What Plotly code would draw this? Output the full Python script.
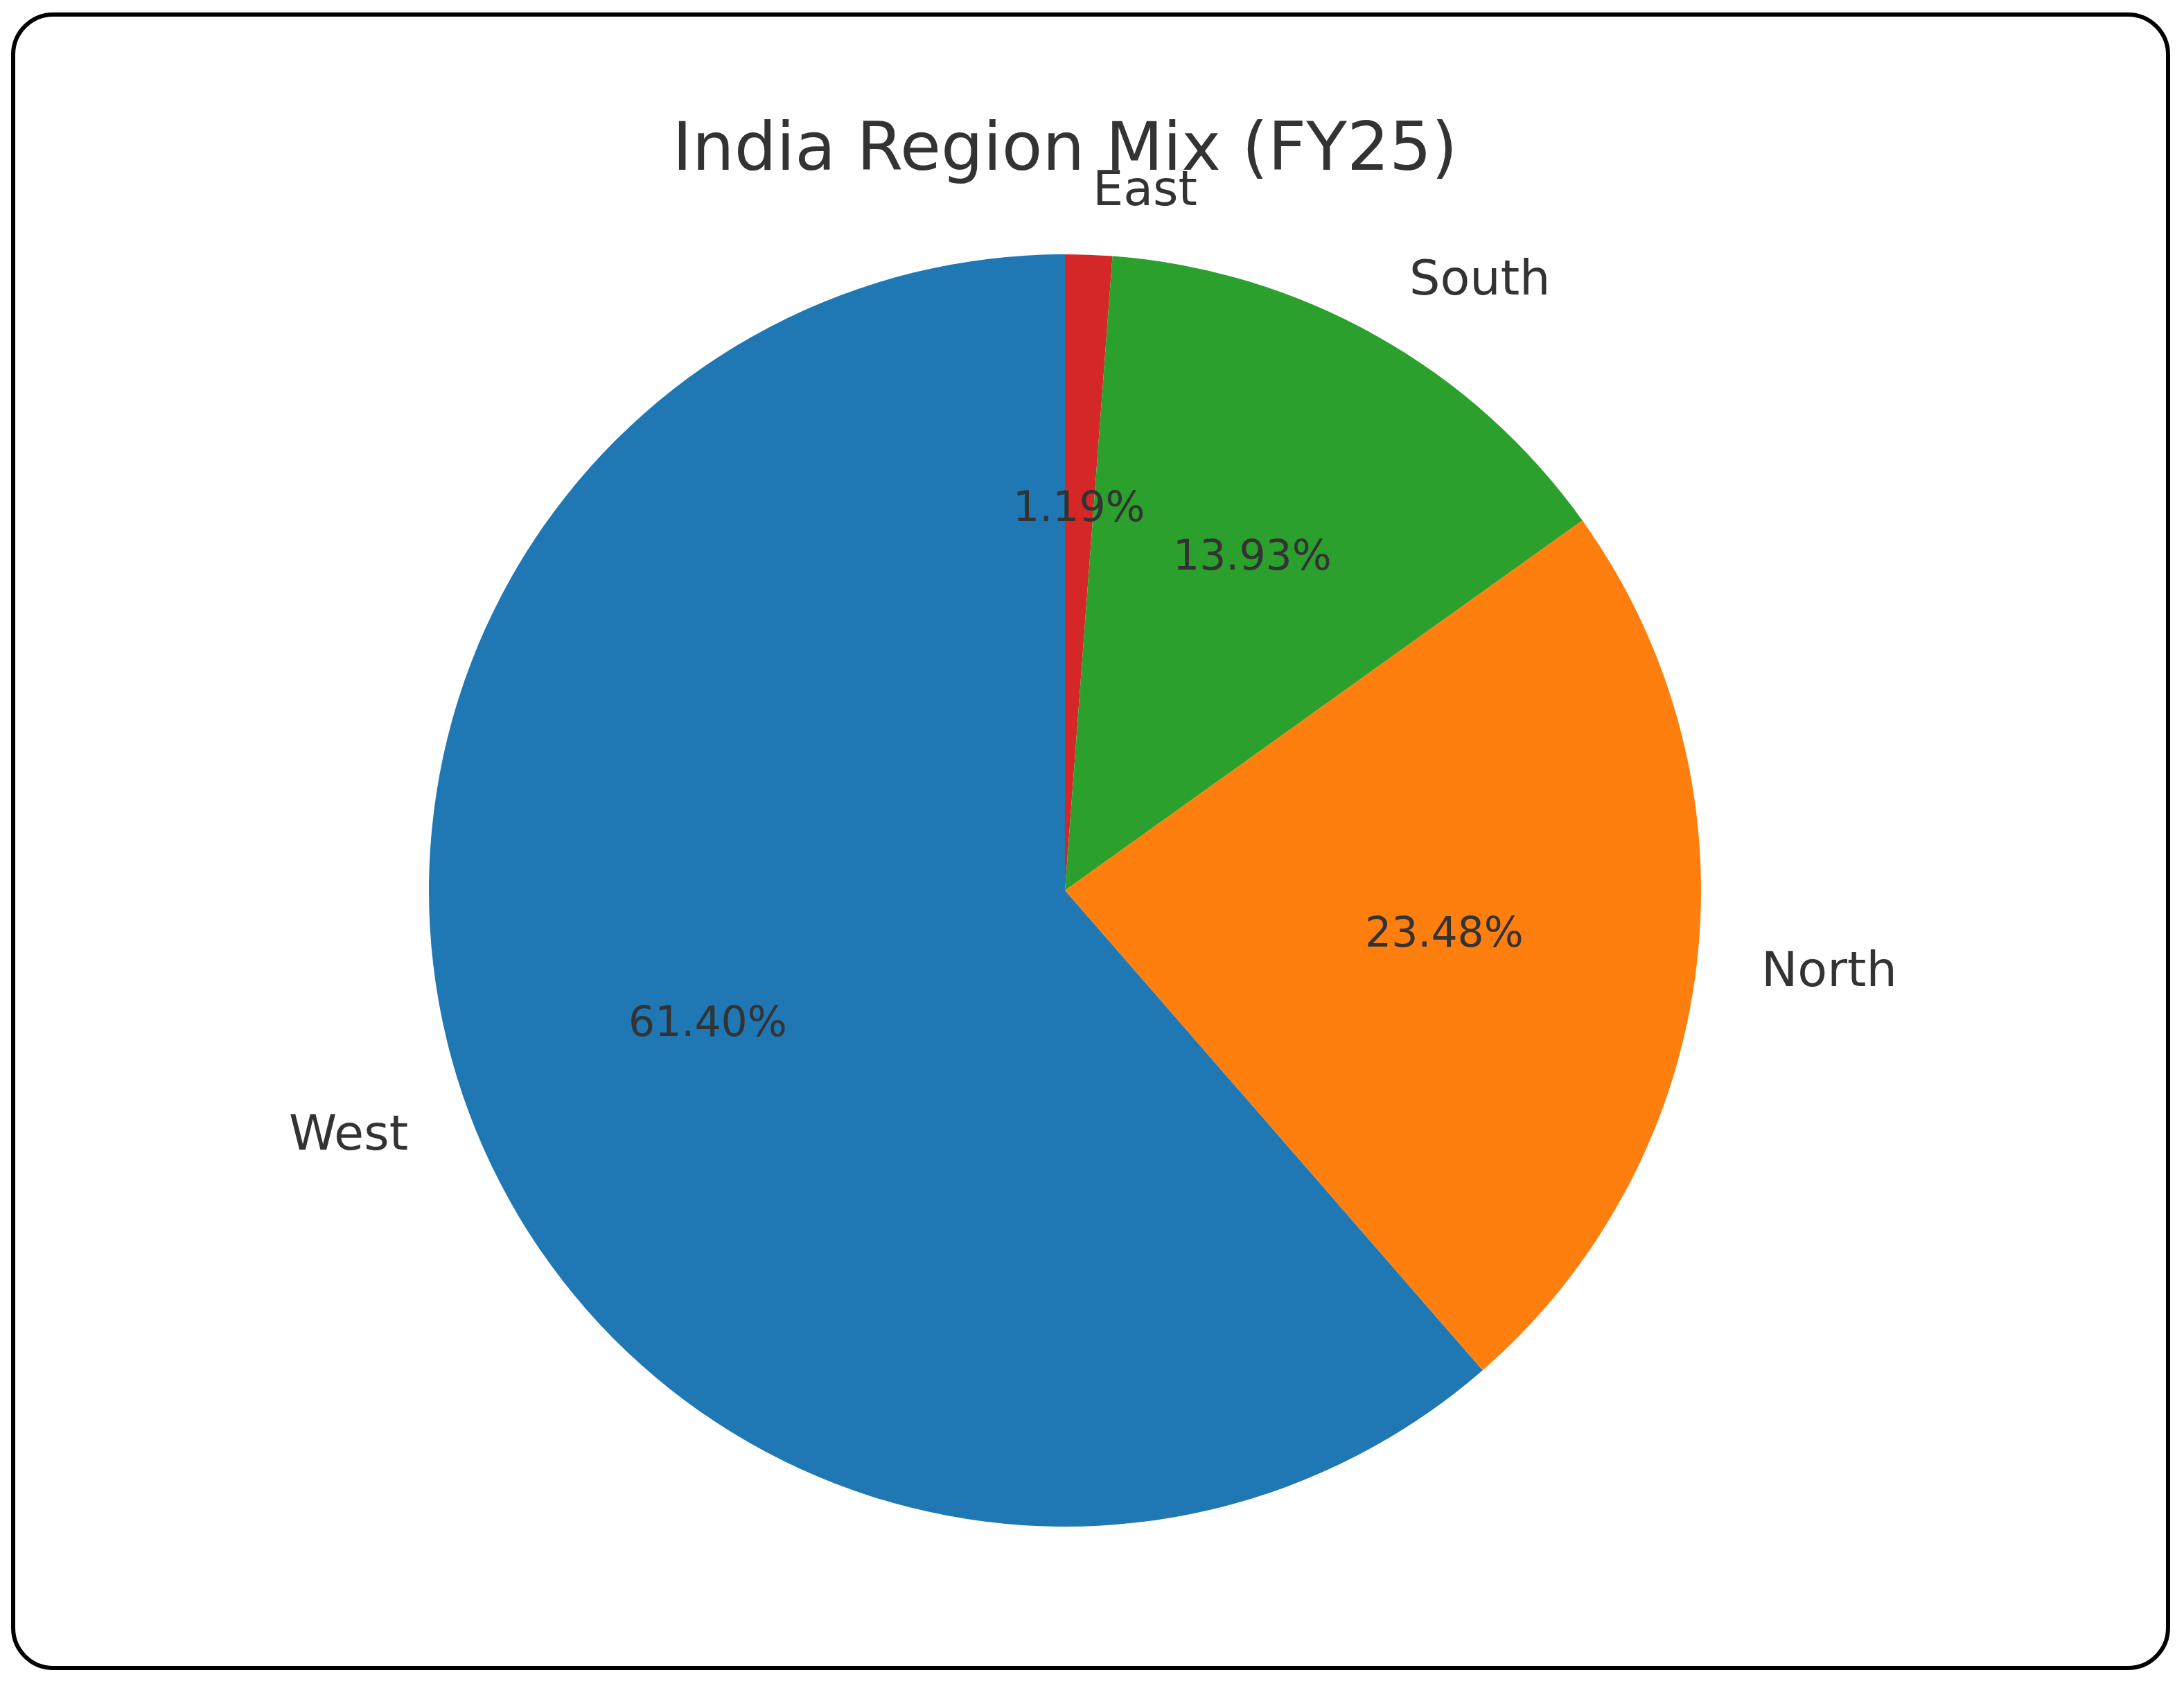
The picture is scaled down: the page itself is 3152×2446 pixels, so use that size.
import math
import plotly.graph_objects as go

# data
regions = ["West", "North", "South", "East"]
shares = [61.40, 23.48, 13.93, 1.19]
colors = ["#1f77b4", "#ff7f0e", "#2ca02c", "#d62728"]
title = "India Region Mix (FY25)"

W, H = 3152, 2446
off = 8                        # page body margin in the browser
cx, cy, r = 1537 - off, 1285 - off, 918   # pie center / radius in px
font = "DejaVu Sans"
txt_color = "#333333"
text_dy = 4                    # matplotlib centers text a little higher

fig = go.Figure()
# plotly draws clockwise from 12 o'clock; matplotlib went counterclockwise,
# so feed the slices in reverse order
fig.add_trace(go.Pie(
    labels=regions[::-1],
    values=shares[::-1],
    sort=False,
    direction="clockwise",
    rotation=0,
    marker=dict(colors=colors[::-1], line=dict(width=0)),
    textinfo="none",
    hoverinfo="label+percent",
    showlegend=False,
    domain=dict(x=[(cx - r) / W, (cx + r) / W],
                y=[1 - (cy + r) / H, 1 - (cy - r) / H]),
))

# labels at 1.1r and percentages at 0.6r, like matplotlib autopct
total = sum(shares)
annotations = []
cum = 0.0
for name, v in zip(regions, shares):
    frac = v / total
    mid = math.radians(90 + 360 * (cum + frac / 2))
    cum += frac
    dx, dy = math.cos(mid), math.sin(mid)
    lx = cx + 1.1 * r * dx
    ly = cy - 1.1 * r * dy - text_dy
    annotations.append(dict(
        x=lx / W, y=1 - ly / H, xref="paper", yref="paper",
        text=name, showarrow=False,
        xanchor="left" if dx > 0 else "right", yanchor="middle",
        font=dict(family=font, size=70, color=txt_color),
    ))
    px_ = cx + 0.6 * r * dx
    py_ = cy - 0.6 * r * dy - text_dy
    annotations.append(dict(
        x=px_ / W, y=1 - py_ / H, xref="paper", yref="paper",
        text="%.2f%%" % (frac * 100), showarrow=False,
        xanchor="center", yanchor="middle",
        font=dict(family=font, size=60, color=txt_color),
    ))

# rounded frame around the whole figure
x0, x1 = (19 - off) / W, (3129 - off) / W
y0, y1 = 1 - (2407 - off) / H, 1 - (21 - off) / H
rad = 58
rx, ry = rad / W, rad / H
k = 0.5523
path = (
    f"M {x0 + rx},{y1} L {x1 - rx},{y1} "
    f"C {x1 - rx + k * rx},{y1} {x1},{y1 - ry + k * ry} {x1},{y1 - ry} "
    f"L {x1},{y0 + ry} "
    f"C {x1},{y0 + ry - k * ry} {x1 - rx + k * rx},{y0} {x1 - rx},{y0} "
    f"L {x0 + rx},{y0} "
    f"C {x0 + rx - k * rx},{y0} {x0},{y0 + ry - k * ry} {x0},{y0 + ry} "
    f"L {x0},{y1 - ry} "
    f"C {x0},{y1 - ry + k * ry} {x0 + rx - k * rx},{y1} {x0 + rx},{y1} Z"
)

fig.update_layout(
    width=W, height=H,
    margin=dict(l=0, r=0, t=0, b=0),
    paper_bgcolor="white",
    plot_bgcolor="white",
    title=dict(text=title, x=cx / W, xanchor="center",
               y=1 - (211 - off) / H, yanchor="middle", yref="container",
               font=dict(family=font, size=96, color=txt_color)),
    annotations=annotations,
    shapes=[dict(type="path", path=path, xref="paper", yref="paper",
                 line=dict(color="black", width=6), fillcolor="rgba(0,0,0,0)",
                 layer="above")],
)

fig.write_html("out.html")
